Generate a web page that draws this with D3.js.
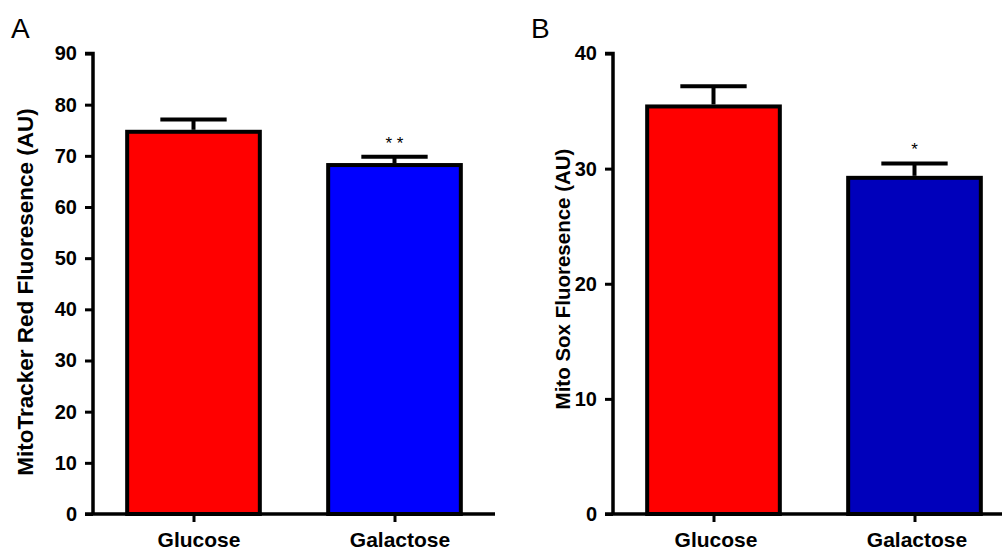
<!DOCTYPE html>
<html>
<head>
<meta charset="utf-8">
<script src="https://cdn.jsdelivr.net/npm/d3@7"></script>
<style>
  html, body { margin: 0; padding: 0; background: #fff; }
  svg text { font-family: "Liberation Sans", Arial, sans-serif; }
</style>
</head>
<body>
<svg id="chart" width="1002" height="551"></svg>
<script>
// ---- data ----
const categories = ["Glucose", "Galactose"];

const mitoTrackerMeans = [74.7, 68.2];
const mitoTrackerErrors = [2.4, 1.6];
const mitoTrackerSig = ["", "* *"];
const mitoTrackerTicks = [0, 10, 20, 30, 40, 50, 60, 70, 80, 90];

const mitoSoxMeans = [35.4, 29.2];
const mitoSoxErrors = [1.75, 1.25];
const mitoSoxSig = ["", "*"];
const mitoSoxTicks = [0, 10, 20, 30, 40];

const svg = d3.select("#chart");

function drawPanel(cfg) {
  const g = svg.append("g");
  const y = d3.scaleLinear().domain(cfg.domain).range([514, 53.5]);
  const x = d3.scalePoint().domain(categories).range([cfg.x0, cfg.x0 + 402]).padding(0.5);
  const step = x.step();
  const barW = step * 0.66;
  const capW = step * 0.33;

  // bars
  g.selectAll("rect.bar").data(categories).enter().append("rect")
    .attr("x", d => x(d) - barW / 2)
    .attr("width", barW)
    .attr("y", (d, i) => y(cfg.means[i]))
    .attr("height", (d, i) => y(0) - y(cfg.means[i]))
    .attr("fill", (d, i) => cfg.colors[i])
    .attr("stroke", "#000")
    .attr("stroke-width", 4);

  // error bars
  categories.forEach((c, i) => {
    const top = y(cfg.means[i] + cfg.errors[i]);
    g.append("line")
      .attr("x1", x(c)).attr("x2", x(c))
      .attr("y1", y(cfg.means[i]) - 2).attr("y2", top)
      .attr("stroke", "#000").attr("stroke-width", 4);
    g.append("line")
      .attr("x1", x(c) - capW / 2).attr("x2", x(c) + capW / 2)
      .attr("y1", top).attr("y2", top)
      .attr("stroke", "#000").attr("stroke-width", 4);
    if (cfg.sig[i]) {
      g.append("text")
        .attr("x", x(c)).attr("y", top - 8)
        .attr("text-anchor", "middle")
        .attr("font-size", 17)
        .attr("fill", "#000")
        .attr("xml:space", "preserve")
        .text(cfg.sig[i]);
    }
  });

  // y axis
  const yAxis = d3.axisLeft(y).tickValues(cfg.ticks).tickSize(8).tickPadding(8).tickFormat(d3.format("d"));
  const ya = g.append("g").attr("transform", `translate(${cfg.x0},0)`).call(yAxis);
  ya.select(".domain").attr("stroke-width", 3.5).attr("d", `M-8,${y(cfg.domain[1])}H0V${y(0)}`);
  ya.selectAll(".tick line").attr("stroke-width", 3);
  ya.selectAll(".tick text").attr("font-size", 20).attr("font-weight", "bold")
    .attr("font-family", "Liberation Sans, Arial, sans-serif").attr("fill", "#000");

  // x axis
  const xAxis = d3.axisBottom(x).tickSize(8).tickPadding(10);
  const xa = g.append("g").attr("transform", `translate(0,${y(0)})`).call(xAxis);
  xa.select(".domain").attr("stroke-width", 3.5).attr("d", `M${cfg.x0 - 8},0H${cfg.xEnd}`);
  xa.selectAll(".tick line").attr("stroke-width", 3);
  xa.selectAll(".tick text").attr("font-size", 21).attr("font-weight", "bold")
    .attr("font-family", "Liberation Sans, Arial, sans-serif").attr("fill", "#000")
    .attr("dx", cfg.labelDx);

  // y label
  g.append("text")
    .attr("transform", `translate(${cfg.labelX},${cfg.labelY}) rotate(-90)`)
    .attr("text-anchor", "middle")
    .attr("font-size", cfg.labelSize)
    .attr("font-weight", "bold")
    .attr("fill", "#000")
    .text(cfg.yLabel);

  // panel letter
  g.append("text")
    .attr("x", cfg.letterX).attr("y", 38)
    .attr("font-size", 28)
    .attr("fill", "#000")
    .text(cfg.letter);
}

drawPanel({
  x0: 93, xEnd: 495, domain: [0, 90], ticks: mitoTrackerTicks,
  means: mitoTrackerMeans, errors: mitoTrackerErrors, sig: mitoTrackerSig,
  colors: ["#FF0000", "#0000FF"],
  yLabel: "MitoTracker Red Fluoresence (AU)", labelX: 33, labelY: 292, labelSize: 22.5,
  letter: "A", letterX: 11, labelDx: 5
});

drawPanel({
  x0: 613, xEnd: 1002, domain: [0, 40], ticks: mitoSoxTicks,
  means: mitoSoxMeans, errors: mitoSoxErrors, sig: mitoSoxSig,
  colors: ["#FF0000", "#0000BB"],
  yLabel: "Mito Sox Fluoresence (AU)", labelX: 570, labelY: 279, labelSize: 20.5,
  letter: "B", letterX: 531, labelDx: 2
});
</script>
</body>
</html>
